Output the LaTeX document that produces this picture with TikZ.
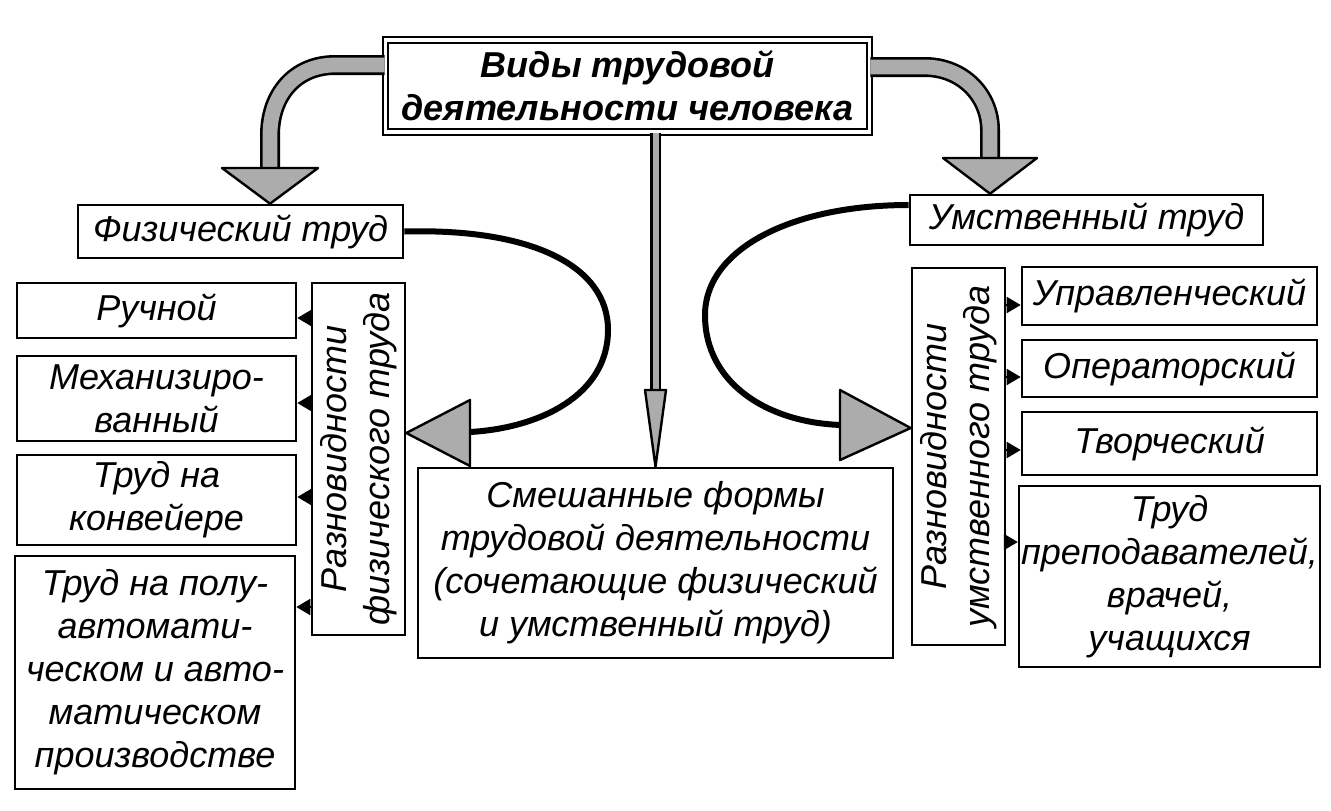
\documentclass[tikz,border=0pt]{standalone}
\usepackage{fontspec}
\setmainfont{Liberation Sans}
\usepackage{tikz}
\usetikzlibrary{arrows.meta}

\tikzset{
  box/.style={draw, line width=1.3pt, align=center, inner sep=1pt, font=\fontsize{18}{21.5}\selectfont\itshape},
  boldbox/.style={box, font=\fontsize{18}{21.5}\selectfont\bfseries\itshape},
  tick/.style={line width=1pt, -{Triangle[length=7pt,width=8pt]}},
  gshaft/.style={line width=10pt, draw=black},
  gfill/.style={line width=7.4pt, draw=gray!65},
  ghead/.style={fill=gray!65, draw=black, line width=1.2pt, line join=round},
  curveline/.style={line width=3pt, draw=black}
}

\begin{document}
\begin{tikzpicture}[x=0.5pt, y=-0.5pt]
            \useasboundingbox (0,0) rectangle (1331,810);

            % Nodes
            \node[boldbox, double, double distance=1.8pt, line width=0.9pt, minimum width=242pt, minimum height=46pt] (title) at (627.5,86) {Виды трудовой\\деятельности человека};
            \node[box, minimum width=162.5pt, minimum height=26.5pt] (fiz) at (240.5,231.5) {Физический труд};
            \node[box, minimum width=176.5pt, minimum height=25pt] (umst) at (1086.5,220) {Умственный труд};

            \node[box, minimum width=139.5pt, minimum height=27.5pt] (r1) at (156.5,310.5) {Ручной};
            \node[box, minimum width=139.5pt, minimum height=42.5pt] (r2) at (156.5,398.5) {Механизиро-\\ванный};
            \node[box, minimum width=139.5pt, minimum height=45pt] (r3) at (156.5,500) {Труд на\\конвейере};
            \node[box, minimum width=140pt, minimum height=116.5pt] (r4) at (155,672.5) {Труд на полу-\\автомати-\\ческом и авто-\\матическом\\производстве};
            \node[box, rotate=90, minimum width=176pt, minimum height=46.5pt] (lv) at (358.5,459) {Разновидности\\физического труда};

            \node[box, rotate=90, minimum width=188.5pt, minimum height=46.5pt] (rv) at (958.5,456.5) {Разновидности\\умственного труда};
            \node[box, minimum width=147.5pt, minimum height=29pt] (c1) at (1169.5,296) {Управленческий};
            \node[box, minimum width=147.5pt, minimum height=28.5pt] (c2) at (1169.5,368.5) {Операторский};
            \node[box, minimum width=147.5pt, minimum height=31.5pt] (c3) at (1169.5,443.5) {Творческий};
            \node[box, minimum width=147.5pt, minimum height=90.5pt] (c4) at (1169.5,576.5) {Труд\\преподавателей,\\врачей,\\учащихся};

            \node[box, minimum width=237.5pt, minimum height=95pt] (mix) at (655.5,563) {Смешанные формы\\трудовой деятельности\\(сочетающие физический\\и умственный труд)};

            % Gray arrows
            \draw[gshaft] (title.west |- 0,65) -- (335,65) .. controls (295,65) and (270,95) .. (270,135) -- (270,172);
            \draw[gfill] (title.west |- 0,65) -- (335,65) .. controls (295,65) and (270,95) .. (270,135) -- (270,172);
            \filldraw[ghead] (222,168) -- (318,168) -- (fiz.north -| 270,0) -- cycle;

            \draw[gshaft] (title.east |- 0,67) -- (925,67) .. controls (962,67) and (990,95) .. (990,130) -- (990,162);
            \draw[gfill] (title.east |- 0,67) -- (925,67) .. controls (962,67) and (990,95) .. (990,130) -- (990,162);
            \filldraw[ghead] (943,158) -- (1037,158) -- (umst.north -| 990,0) -- cycle;

            \draw[line width=5.5pt] (title.south -| mix.north) -- (mix.north |- 0,395);
            \draw[line width=3pt, gray!65] (title.south -| mix.north) -- (mix.north |- 0,395);
            \filldraw[ghead] (645,390) -- (666,390) -- (mix.north) -- cycle;

            % Curved arrows
            \draw[curveline] (fiz.east) .. controls (530,228) and (608,265) .. (608,330) .. controls (608,395) and (540,428) .. (470,432);
            \filldraw[ghead] (470,400) -- (470,466) -- (lv.south |- 0,433) -- cycle;

            \draw[curveline] (umst.west |- 0,205) .. controls (790,205) and (705,250) .. (705,315) .. controls (705,385) and (770,423) .. (842,425);
            \filldraw[ghead] (840,390) -- (840,460) -- (rv.north |- 0,428) -- cycle;

            % Lines
            \draw[tick] (lv.north |- 0,318) -- (r1.east |- 0,318);
            \draw[tick] (lv.north |- 0,403) -- (r2.east |- 0,403);
            \draw[tick] (lv.north |- 0,497) -- (r3.east |- 0,497);
            \draw[tick] (lv.north |- 0,607) -- (r4.east |- 0,607);

            \draw[tick] (rv.south |- 0,305) -- (c1.west |- 0,305);
            \draw[tick] (rv.south |- 0,377) -- (c2.west |- 0,377);
            \draw[tick] (rv.south |- 0,450) -- (c3.west |- 0,450);
            \draw[tick] (rv.south |- 0,542) -- (c4.west |- 0,542);
\end{tikzpicture}
\end{document}
